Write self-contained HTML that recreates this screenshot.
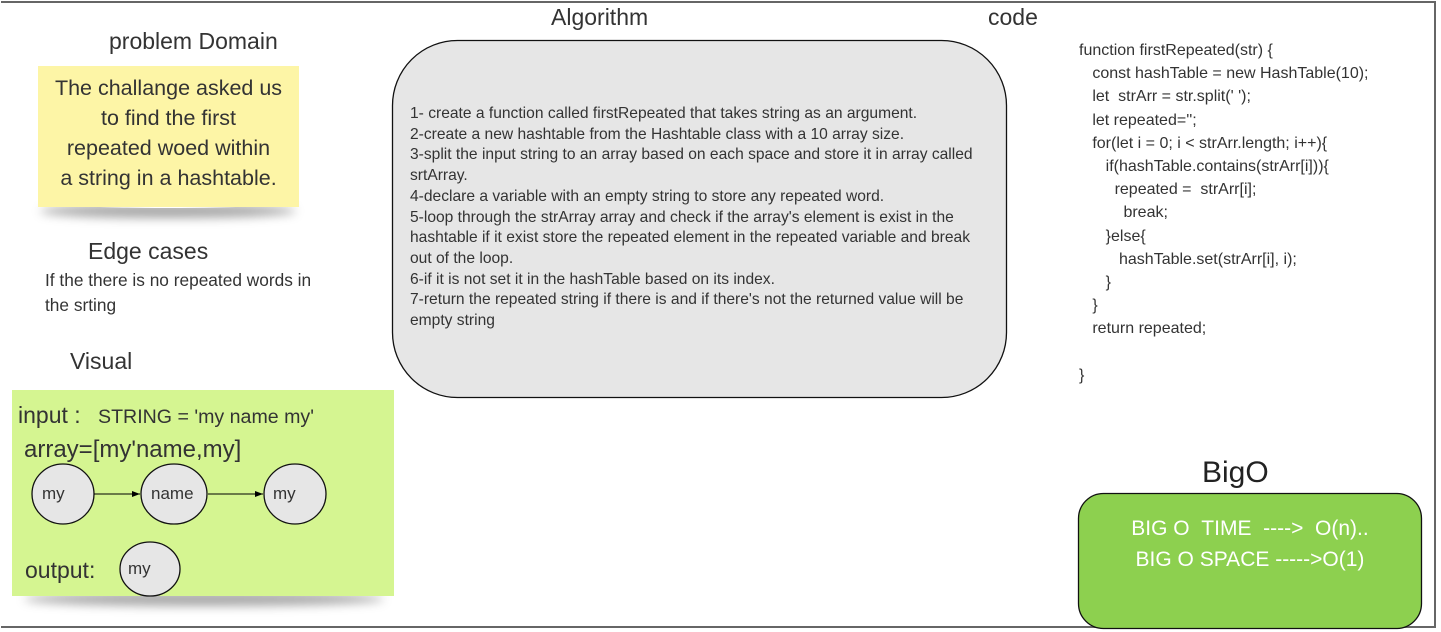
<!DOCTYPE html>
<html><head><meta charset="utf-8"><style>
body{margin:0;width:1441px;height:632px;background:#fff;position:relative;overflow:hidden;font-family:"Liberation Sans",sans-serif;color:#333}
.a{position:absolute;white-space:nowrap}
.frame{position:absolute;left:1px;top:1px;width:1435px;height:627px;border:2px solid #666;border-left:none;box-sizing:border-box}
</style></head><body>
<div class="frame"></div>
<div class="a" style="left:109px;top:28px;font-size:23px">problem Domain</div>
<div class="a" style="left:40px;top:194px;width:256px;height:14px;box-shadow:0 10px 10px rgba(0,0,0,.35);border-radius:50%"></div>
<div class="a" style="left:38px;top:66px;width:261px;height:141px;background:#fdf5a6;text-align:center;font-size:21.5px;line-height:30px;padding-top:7px;box-sizing:border-box;white-space:normal;color:#333">The challange asked us<br>to find the first<br>repeated woed within<br>a string in a hashtable.</div>
<div class="a" style="left:88px;top:238px;font-size:23px">Edge cases</div>
<div class="a" style="left:45px;top:268px;font-size:17.3px;line-height:25px">If the there is no repeated words in<br>the srting</div>
<div class="a" style="left:70px;top:348px;font-size:23px">Visual</div>
<div class="a" style="left:24px;top:582px;width:360px;height:14px;box-shadow:0 10px 10px rgba(0,0,0,.35);border-radius:50%"></div>
<div class="a" style="left:12px;top:390px;width:382px;height:206px;background:#d5f591"></div>
<div class="a" style="left:18px;top:402px;font-size:23px">input :</div>
<div class="a" style="left:98px;top:406px;font-size:19.6px">STRING = 'my name my'</div>
<div class="a" style="left:24px;top:436px;font-size:24px">array=[my'name,my]</div>
<svg class="a" style="left:0;top:0" width="1441" height="632">
<defs><marker id="m" markerWidth="8" markerHeight="6" refX="8" refY="3" orient="auto"><path d="M0,0L8,3L0,6z" fill="#000"/></marker></defs>
<g fill="#e6e6e6" stroke="#111" stroke-width="1.3">
<ellipse cx="63" cy="494" rx="31" ry="30"/>
<ellipse cx="174" cy="494" rx="33" ry="30"/>
<ellipse cx="295" cy="494" rx="31" ry="30"/>
<ellipse cx="150" cy="569" rx="30" ry="27"/>
</g>
<line x1="94" y1="494" x2="140" y2="494" stroke="#000" marker-end="url(#m)"/>
<line x1="208" y1="494" x2="263" y2="494" stroke="#000" marker-end="url(#m)"/>
<rect x="392.5" y="40.5" width="614" height="357" rx="65" fill="#e6e6e6" stroke="#111" stroke-width="1.3"/>
<rect x="1078.5" y="493.5" width="343" height="135" rx="25" fill="#8dd04f" stroke="#111" stroke-width="1.3"/>
</svg>
<div class="a" style="left:42px;top:484px;font-size:17px">my</div>
<div class="a" style="left:151px;top:484px;font-size:17px">name</div>
<div class="a" style="left:273px;top:484px;font-size:17px">my</div>
<div class="a" style="left:128px;top:559px;font-size:17px">my</div>
<div class="a" style="left:25px;top:557px;font-size:23px">output:</div>
<div class="a" style="left:551px;top:4px;font-size:23px">Algorithm</div>
<div class="a" style="left:988px;top:4px;font-size:23px">code</div>
<div class="a" style="left:410px;top:104px;font-size:15.6px;line-height:20.7px;width:575px;white-space:normal">1- create a function called firstRepeated that takes string as an argument.<br>2-create a new hashtable from the Hashtable class with a 10 array size.<br>3-split the input string to an array based on each space and store it in array called srtArray.<br>4-declare a variable with an empty string to store any repeated word.<br>5-loop through the strArray array and check if the array's element is exist in the hashtable if it exist store the repeated element in the repeated variable and break out of the loop.<br>6-if it is not set it in the hashTable based on its index.<br>7-return the repeated string if there is and if there's not the returned value will be empty string</div>
<pre class="a" style="left:1079px;top:39px;margin:0;white-space:pre;font-family:'Liberation Sans',sans-serif;font-size:16px;line-height:23.2px;color:#333">function firstRepeated(str) {
   const hashTable = new HashTable(10);
   let  strArr = str.split(' ');
   let repeated='';
   for(let i = 0; i &lt; strArr.length; i++){
      if(hashTable.contains(strArr[i])){
        repeated =  strArr[i];
          break;
      }else{
         hashTable.set(strArr[i], i);
      }
   }
   return repeated;

}</pre>
<div class="a" style="left:1202px;top:456px;font-size:30px;color:#222">BigO</div>
<div class="a" style="left:1078px;top:513px;width:344px;text-align:center;font-size:21px;line-height:31px;color:#fff">BIG O &nbsp;TIME &nbsp;----&gt; &nbsp;O(n)..<br>BIG O SPACE -----&gt;O(1)</div>
</body></html>
